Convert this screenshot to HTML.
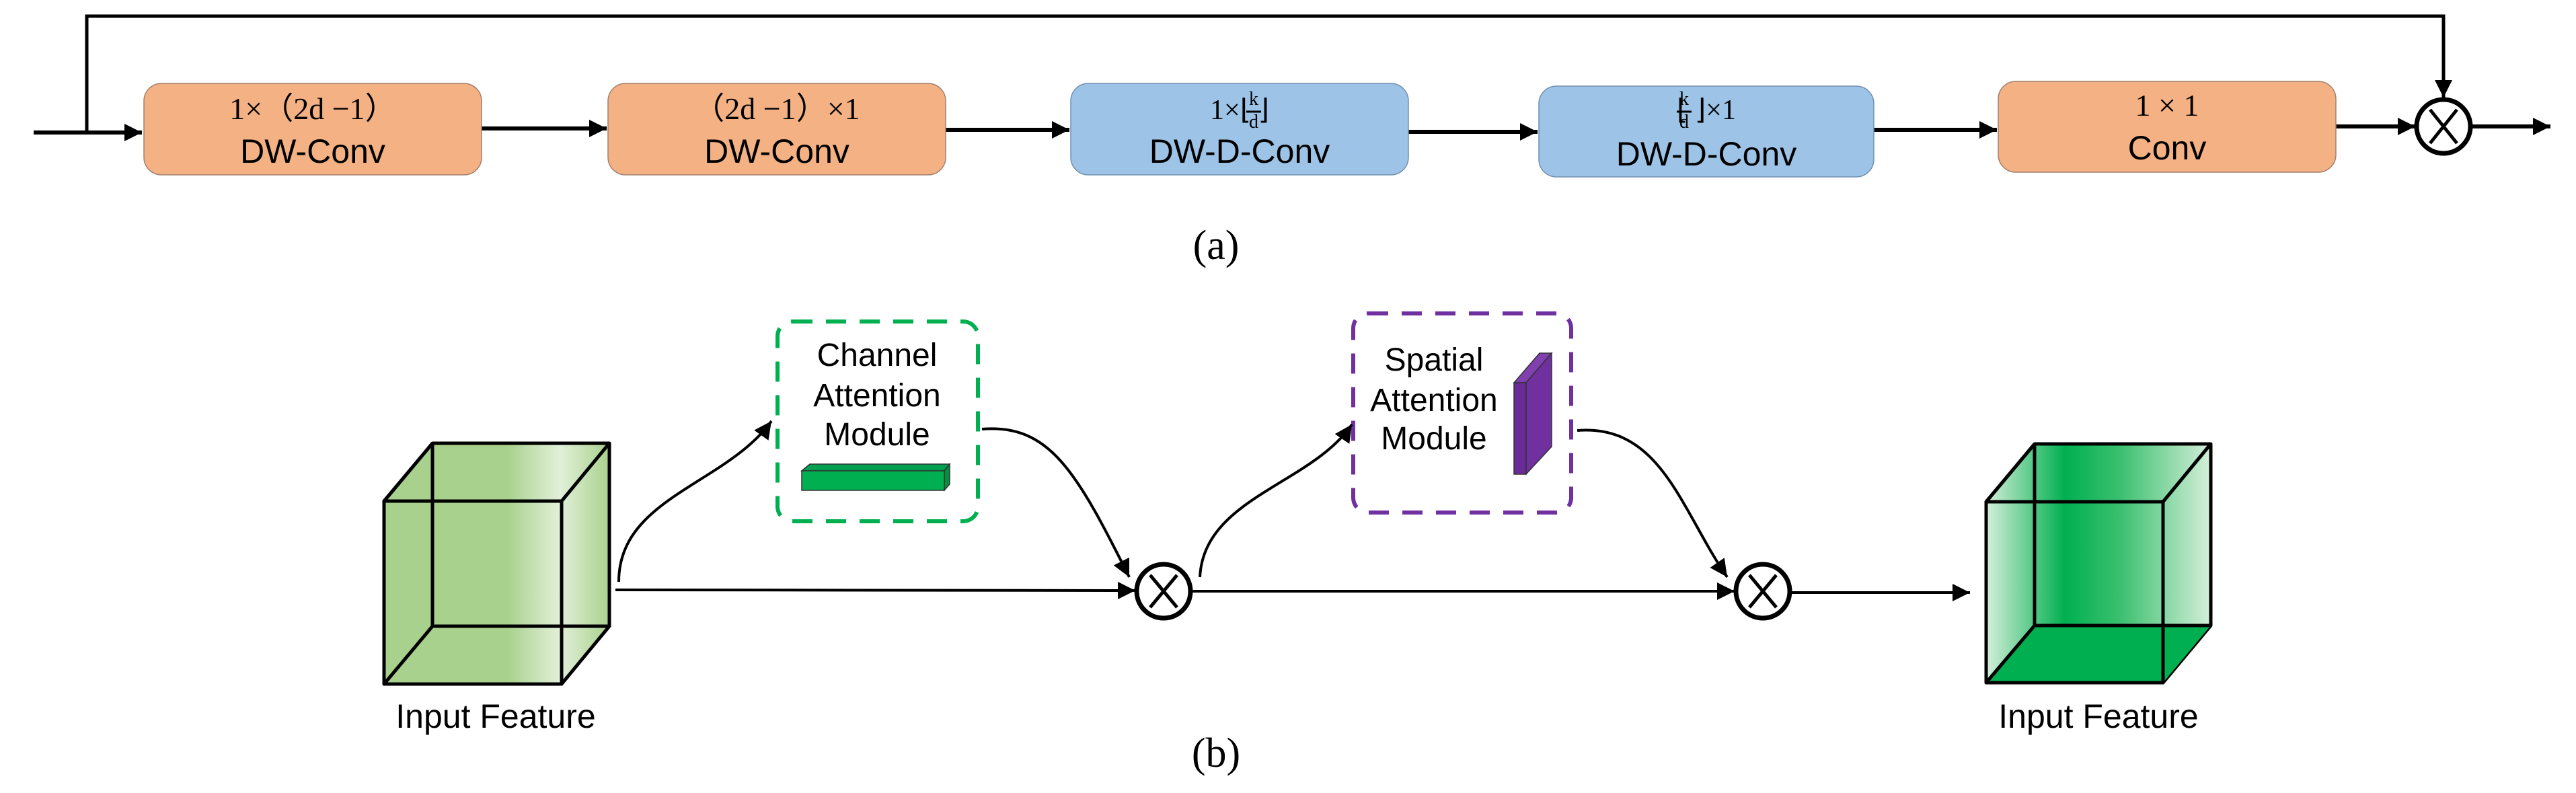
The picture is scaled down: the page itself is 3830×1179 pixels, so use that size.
<!DOCTYPE html>
<html><head><meta charset="utf-8"><style>
html,body{margin:0;padding:0;background:#fff;}
svg{display:block;}
.s{font-family:"Liberation Sans","DejaVu Sans",sans-serif;}
.r{font-family:"Liberation Serif",serif;}
</style></head><body>
<svg width="3830" height="1179" viewBox="0 0 3830 1179" xmlns="http://www.w3.org/2000/svg">
<defs>
<marker id="a2" viewBox="0 0 10 10" refX="10" refY="5" markerWidth="30" markerHeight="26" orient="auto" markerUnits="userSpaceOnUse"><path d="M0,0 L10,5 L0,10 z" fill="#000"/></marker>
<linearGradient id="g1" x1="0" x2="1" y1="0" y2="0">
<stop offset="0" stop-color="#a9d18e"/><stop offset="0.55" stop-color="#a9d18e"/><stop offset="0.78" stop-color="#e2f0d9"/><stop offset="1" stop-color="#a9d18e"/></linearGradient>
<linearGradient id="g2" x1="0" x2="1" y1="0" y2="0">
<stop offset="0" stop-color="#d5efd9"/><stop offset="0.35" stop-color="#00b050"/><stop offset="0.6" stop-color="#3cc070"/><stop offset="1" stop-color="#d5efd9"/></linearGradient>
</defs>

<!-- (a) -->
<g fill="none" stroke="#000">
<polyline points="129,197 129,24 3633,24 3633,145" stroke-width="5"/>
<line x1="50" y1="197" x2="211" y2="197" stroke-width="6" marker-end="url(#a2)"/>
<line x1="716" y1="191" x2="902" y2="191" stroke-width="6" marker-end="url(#a2)"/>
<line x1="1406" y1="193" x2="1590" y2="193" stroke-width="6" marker-end="url(#a2)"/>
<line x1="2094" y1="196" x2="2286" y2="196" stroke-width="6" marker-end="url(#a2)"/>
<line x1="2786" y1="193" x2="2969" y2="193" stroke-width="6" marker-end="url(#a2)"/>
<line x1="3473" y1="188" x2="3591" y2="188" stroke-width="6" marker-end="url(#a2)"/>
<line x1="3674" y1="188" x2="3792" y2="188" stroke-width="6" marker-end="url(#a2)"/>
<line x1="3633" y1="120" x2="3633" y2="145" stroke-width="5" marker-end="url(#a2)"/>
<circle cx="3633" cy="188" r="40" stroke-width="7" fill="#fff"/>
<line x1="3613" y1="163" x2="3653" y2="213" stroke-width="5"/>
<line x1="3653" y1="163" x2="3613" y2="213" stroke-width="5"/>
</g>
<g stroke="#a08070" stroke-width="1.5">
<rect x="214" y="124" width="502" height="136" rx="26" fill="#f4b183"/>
<rect x="904" y="124" width="502" height="136" rx="26" fill="#f4b183"/>
<rect x="1592" y="124" width="502" height="136" rx="26" fill="#9dc3e6" stroke="#7090b0"/>
<rect x="2288" y="128" width="498" height="135" rx="26" fill="#9dc3e6" stroke="#7090b0"/>
<rect x="2971" y="121" width="502" height="135" rx="26" fill="#f4b183"/>
</g>
<g text-anchor="middle">
<text x="465" y="177" class="r" font-size="46">1×（2d −1）</text>
<text x="465" y="242" class="s" font-size="50">DW-Conv</text>
<text x="1155" y="177" class="r" font-size="46">（2d −1）×1</text>
<text x="1155" y="242" class="s" font-size="50">DW-Conv</text>
<text x="1843" y="177" class="r" font-size="42">1×⌊ ⌋</text>
<text x="1864" y="156" class="r" font-size="28">k</text>
<text x="1864" y="190" class="r" font-size="28">d</text>
<line x1="1853" y1="166" x2="1875" y2="166" stroke="#000" stroke-width="3"/>
<text x="1843" y="242" class="s" font-size="50">DW-D-Conv</text>
<text x="2537" y="177" class="r" font-size="42">⌊ ⌋×1</text>
<text x="2504" y="156" class="r" font-size="28">k</text>
<text x="2504" y="190" class="r" font-size="28">d</text>
<line x1="2493" y1="166" x2="2515" y2="166" stroke="#000" stroke-width="3"/>
<text x="2537" y="246" class="s" font-size="50">DW-D-Conv</text>
<text x="3222" y="172" class="r" font-size="46">1 × 1</text>
<text x="3222" y="237" class="s" font-size="50">Conv</text>
<text x="1808" y="385" class="r" font-size="62">(a)</text>
<text x="1808" y="1140" class="r" font-size="62">(b)</text>
</g>

<!-- (b) cubes -->
<g stroke="#000" stroke-width="5" stroke-linejoin="round">
<polygon points="571,745 643,659 906,659 906,931 835,1017 571,1017" fill="url(#g1)"/>
<polyline points="643,659 643,931 906,931" fill="none"/>
<line x1="643" y1="931" x2="571" y2="1017"/>
<rect x="571" y="745" width="264" height="272" fill="none"/>
<line x1="835" y1="745" x2="906" y2="659"/>
<line x1="571" y1="745" x2="643" y2="659"/>

<polygon points="2953,746 3025,660 3287,660 3287,930 3216,1015 2953,1015" fill="url(#g2)"/>
<polygon points="3025,930 3287,930 3216,1015 2953,1015" fill="#00b050" stroke="none"/>
<polyline points="3025,660 3025,930 3287,930" fill="none"/>
<line x1="3025" y1="930" x2="2953" y2="1015"/>
<rect x="2953" y="746" width="263" height="269" fill="none"/>
<line x1="3216" y1="746" x2="3287" y2="660"/>
<line x1="2953" y1="746" x2="3025" y2="660"/>
</g>
<g text-anchor="middle" class="s" font-size="50">
<text x="737" y="1082">Input Feature</text>
<text x="3120" y="1082">Input Feature</text>
</g>

<!-- modules -->
<rect x="1156" y="478" width="298" height="297" rx="22" fill="none" stroke="#00b050" stroke-width="6" stroke-dasharray="30,20"/>
<rect x="2012" y="466" width="324" height="296" rx="22" fill="none" stroke="#7030a0" stroke-width="6" stroke-dasharray="30,20"/>
<g text-anchor="middle" class="s" font-size="48">
<text x="1304" y="544">Channel</text>
<text x="1304" y="604">Attention</text>
<text x="1304" y="662">Module</text>
<text x="2132" y="551">Spatial</text>
<text x="2132" y="611">Attention</text>
<text x="2132" y="668">Module</text>
</g>
<g stroke="#333" stroke-width="1.5">
<polygon points="1192,700 1204,690 1412,690 1404,700" fill="#00a050"/>
<polygon points="1404,700 1412,690 1412,720 1404,729" fill="#009040"/>
<rect x="1192" y="700" width="212" height="29" fill="#00b050"/>
<polygon points="2251,569 2289,525 2307,525 2269,569" fill="#8040b0"/>
<polygon points="2269,569 2307,525 2307,664 2269,705" fill="#7030a0"/>
<rect x="2251" y="569" width="18" height="136" fill="#6a2a98"/>
</g>

<!-- connectors b -->
<g fill="none" stroke="#000" stroke-width="4">
<line x1="915" y1="877" x2="1688" y2="878" marker-end="url(#a2)"/>
<path d="M920,865 C920,740 1080,720 1147,626" marker-end="url(#a2)"/>
<path d="M1460,638 C1560,630 1600,700 1679,858" marker-end="url(#a2)"/>
<line x1="1770" y1="879" x2="2579" y2="879" marker-end="url(#a2)"/>
<path d="M1784,858 C1790,740 1950,720 2010,631" marker-end="url(#a2)"/>
<path d="M2345,640 C2470,630 2500,760 2568,858" marker-end="url(#a2)"/>
<line x1="2661" y1="881" x2="2929" y2="881" marker-end="url(#a2)"/>
<circle cx="1730" cy="879" r="40" stroke-width="7" fill="#fff"/>
<line x1="1710" y1="855" x2="1750" y2="903" stroke-width="5"/>
<line x1="1750" y1="855" x2="1710" y2="903" stroke-width="5"/>
<circle cx="2621" cy="879" r="40" stroke-width="7" fill="#fff"/>
<line x1="2601" y1="855" x2="2641" y2="903" stroke-width="5"/>
<line x1="2641" y1="855" x2="2601" y2="903" stroke-width="5"/>
</g>
</svg>
</body></html>
